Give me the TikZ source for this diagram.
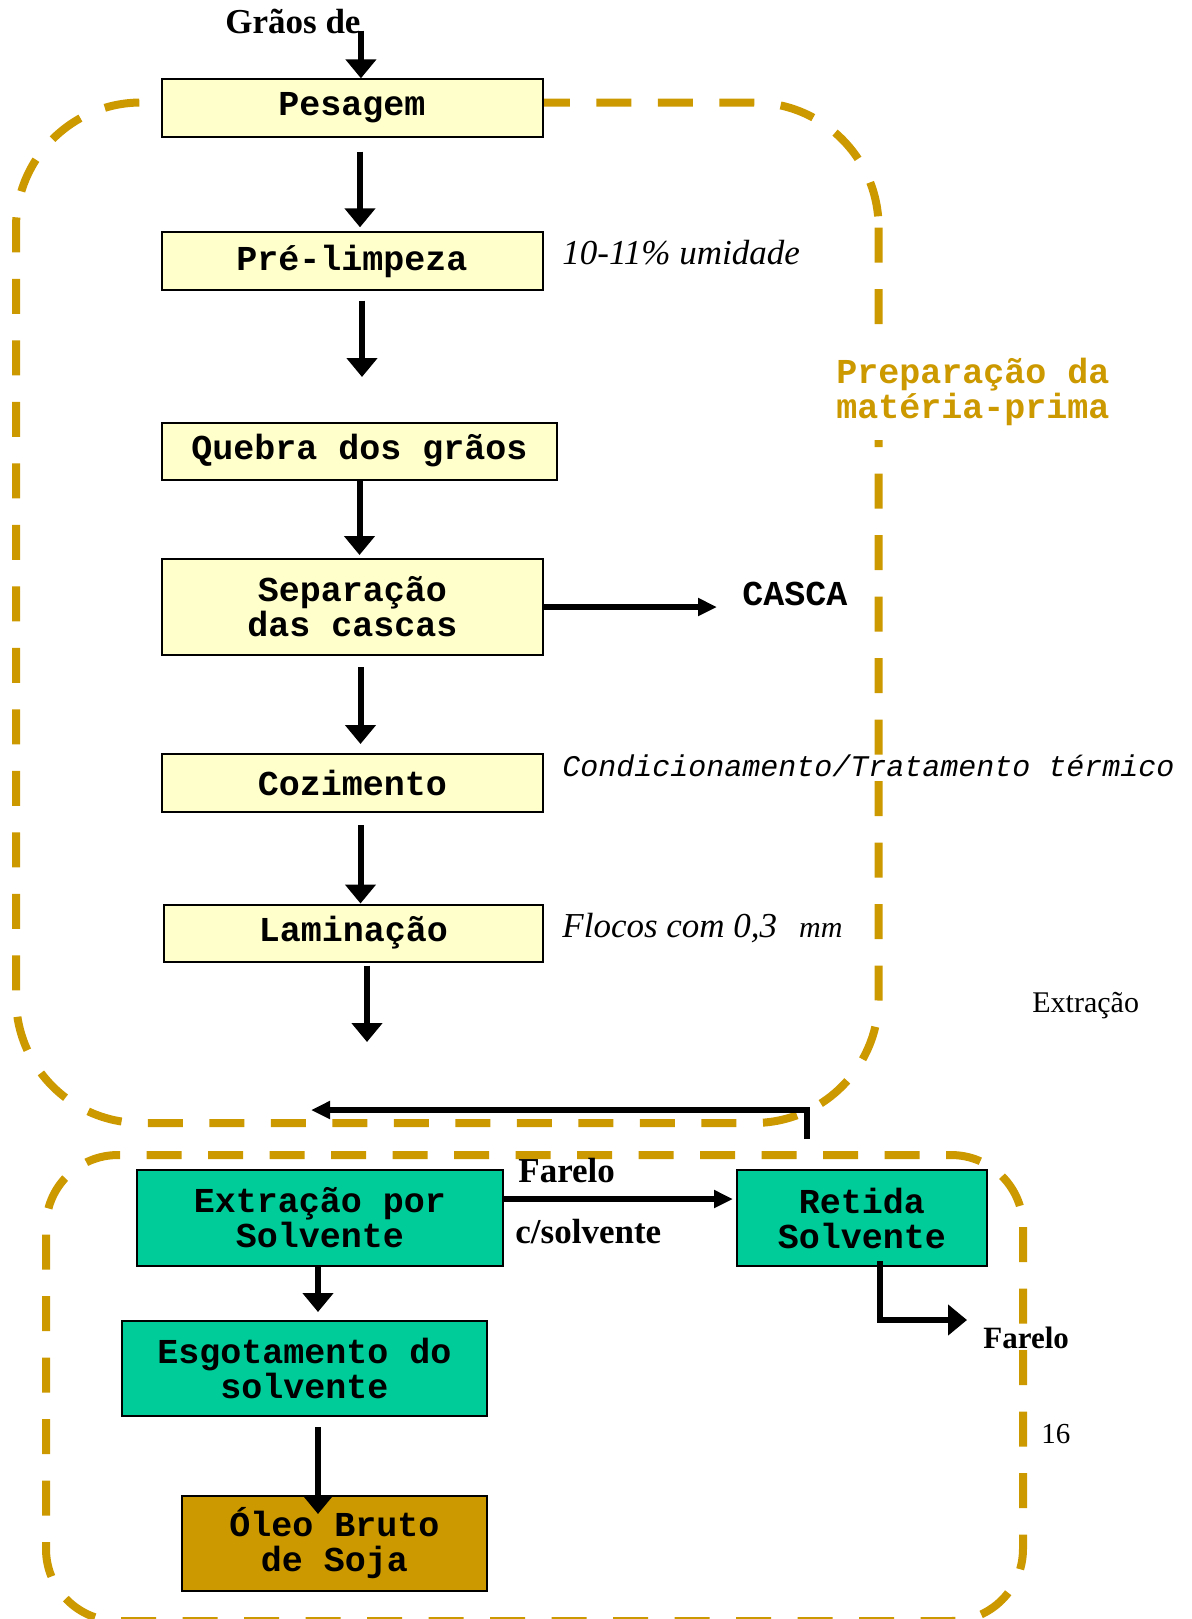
\documentclass[tikz,border=0pt]{standalone}
\usepackage{fontspec}
\setmainfont{Liberation Serif}
\setmonofont{Liberation Mono}
\usetikzlibrary{arrows.meta,calc,positioning}

\definecolor{gold}{HTML}{CC9900}
\definecolor{paleyellow}{HTML}{FFFFCC}
\definecolor{jade}{HTML}{00CC99}

\newcommand{\boxfont}{\ttfamily\bfseries\fontsize{17.5}{17.5}\selectfont}

\begin{document}
\begin{tikzpicture}[x=0.5pt,y=-0.5pt,
  prepbox/.style={draw=black,line width=1pt,fill=paleyellow,inner sep=0pt,align=center,font=\boxfont},
  extbox/.style={prepbox,fill=jade},
  region/.style={draw=gold,line width=4pt,dash pattern=on 17.5pt off 13.25pt,rounded corners=#1},
  flow/.style={line width=3pt,-{Triangle[width=15pt,length=9.5pt]}},
  sideflow/.style={line width=3pt,-{Triangle[width=8.5pt,length=9.5pt]}},
  note/.style={anchor=base west,inner sep=0pt}]
  \useasboundingbox (0,0) rectangle (1192,1619);

  \draw[region=62.5pt] (878.6,227.5) -- (878.6,1123) -- (16,1123) -- (16,102.5) -- (878.6,102.5) -- (878.6,227.5);
  \draw[region=36pt] (1023,1227) -- (1023,1621) -- (46,1621) -- (46,1155) -- (1023,1155) -- (1023,1227);

  \node[prepbox,minimum width=190.5pt,minimum height=28.7pt] (pes) at (352,108) {Pesagem};
  \node[prepbox,minimum width=190.5pt,minimum height=28.7pt] (pre) at (352,261) {Pré-limpeza};
  \node[prepbox,minimum width=197.5pt,minimum height=28.5pt] (que) at (359.5,451) {Quebra dos grãos};
  \node[prepbox,minimum width=190.5pt,minimum height=48pt] (sep) at (352.5,607) {Separação\\das cascas};
  \node[prepbox,minimum width=190.5pt,minimum height=29pt] (coz) at (352.5,783) {Cozimento};
  \node[prepbox,minimum width=189.5pt,minimum height=28.5pt] (lam) at (353.5,933) {Laminação};

  \node[extbox,minimum width=183pt,minimum height=48pt] (ext) at (320,1218) {Extração por\\Solvente};
  \node[extbox,minimum width=125pt,minimum height=48pt] (ret) at (862,1218) {Retida\\Solvente};
  \node[extbox,minimum width=182.5pt,minimum height=47.5pt] (esg) at (304.5,1368.5) {Esgotamento do\\solvente};
  \node[prepbox,fill=gold,minimum width=152.5pt,minimum height=47.5pt] (ole) at (334.5,1543.5) {Óleo Bruto\\de Soja};

  \node[note,font=\bfseries\fontsize{17.5}{17.5}\selectfont] (grain) at (225,33) {Grãos de};
  \node[note,font=\itshape\fontsize{17.5}{17.5}\selectfont] (moist) at (562,264) {10-11\% umidade};
  \node[note,fill=white,inner ysep=7.5pt,align=left,text=gold,font=\boxfont] (prep) at (836,418) {Preparação da\\matéria-prima};
  \node[note,font=\boxfont] (casca) at (742,605) {CASCA};
  \node[note,font=\ttfamily\itshape\fontsize{15}{15}\selectfont] (cond) at (562,776) {Condicionamento/Tratamento térmico};
  \node[note,font=\itshape\fontsize{17.5}{17.5}\selectfont] (flakes) at (562,937) {Flocos com 0,3\hspace{11pt}{\fontsize{15}{15}\selectfont mm}};
  \node[note,font=\fontsize{15}{15}\selectfont] (extlabel) at (1032,1012) {Extração};
  \node[note,font=\bfseries\fontsize{17.5}{17.5}\selectfont] (far) at (518,1182) {Farelo};
  \node[note,font=\bfseries\fontsize{17.5}{17.5}\selectfont] (solv) at (515,1243) {c/solvente};
  \node[note,font=\bfseries\fontsize{15.5}{15.5}\selectfont] (farout) at (983,1348) {Farelo};
  \node[note,font=\fontsize{14.5}{14.5}\selectfont] (page) at (1041,1443) {16};

  \coordinate (cut) at (362,377);
  \coordinate (lamout) at (367,1042);
  \coordinate (fbstart) at (807,1139);
  \coordinate (fbend) at (311,1110);

  \draw[flow,shorten <=-1.5pt] (grain.south east) -- (grain.south east |- pes.north);
  \draw[flow,shorten <=7pt,shorten >=2pt] ([xshift=4pt]pes.south) -- ([xshift=4pt]pre.north);
  \draw[flow,shorten <=5pt] (pre.south -| cut) -- (cut);
  \draw[flow,shorten >=1.5pt] (que.south) -- (que.south |- sep.north);
  \draw[sideflow,shorten >=12.5pt] (sep.east) -- (sep.east -| casca.west);
  \draw[flow,shorten <=5.5pt,shorten >=4.5pt] ([xshift=4pt]sep.south) -- ([xshift=4pt]coz.north);
  \draw[flow,shorten <=6pt] ([xshift=4pt]coz.south) -- ([xshift=4pt]coz.south |- lam.north);
  \draw[flow,shorten <=1.5pt] (lam.south -| lamout) -- (lamout);
  \draw[sideflow] (fbstart) |- (fbend);

  \draw[sideflow,shorten >=1.5pt] ([yshift=9.5pt]ext.east) -- ([yshift=9.5pt]ret.west);
  \draw[flow,shorten >=4pt] ([xshift=-1pt]ext.south) -- ([xshift=-1pt]ext.south |- esg.north);
  \draw[flow,shorten <=5pt] ([xshift=6.75pt]esg.south) -- ($([xshift=6.75pt]esg.south |- ole.north)+(0,19)$);
  \draw[flow] ([xshift=9pt,yshift=3pt]ret.south) -- ++(0,59) -- ++(87,0);
\end{tikzpicture}
\end{document}
